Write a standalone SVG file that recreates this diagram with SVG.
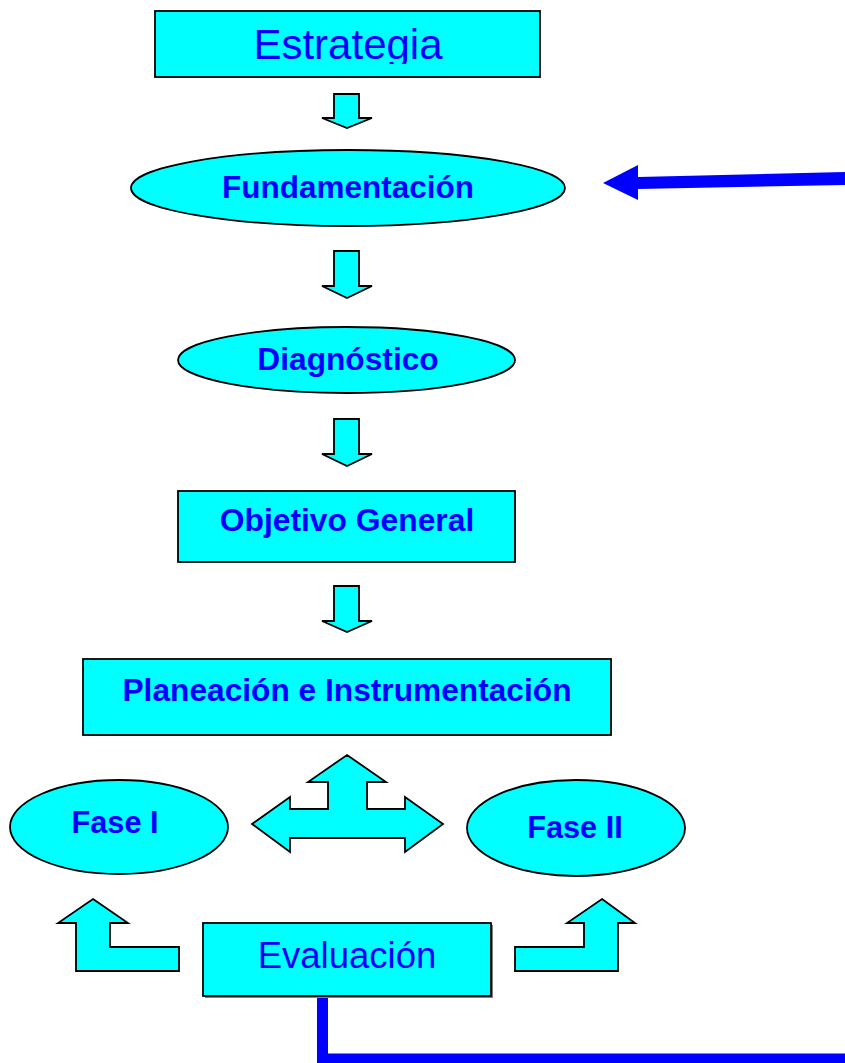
<svg xmlns="http://www.w3.org/2000/svg" width="845" height="1063" viewBox="0 0 845 1063">
<style>
.n{fill:#00FFFF;stroke:#000;stroke-width:1.8}
.a{fill:#00FFFF;stroke:#000;stroke-width:1.8;stroke-linejoin:miter}
.t{font-family:"Liberation Sans",Arial,sans-serif;fill:#0000FF;text-anchor:middle}
.b{font-weight:bold}
.c{fill:none;stroke:#0000FF;stroke-width:11}
</style>
<defs>
<clipPath id="clipE"><rect x="155" y="11" width="385" height="53"/></clipPath>
</defs>
<rect width="845" height="1063" fill="#fff"/>
<g id="estrategia">
<rect class="n" x="155" y="11" width="385" height="66"/>
<text class="t" x="348" y="59" font-size="42" clip-path="url(#clipE)">Estrategia</text>
</g>
<g id="fundamentacion">
<ellipse class="n" cx="348" cy="188" rx="217" ry="38"/>
<text class="t b" x="348" y="198" font-size="31.5">Fundamentación</text>
</g>
<g id="diagnostico">
<ellipse class="n" cx="346.5" cy="360" rx="168.5" ry="33"/>
<text class="t b" x="348" y="370" font-size="31.7">Diagnóstico</text>
</g>
<g id="objetivo">
<rect class="n" x="178" y="491" width="337" height="71"/>
<text class="t b" x="347" y="531" font-size="31.8">Objetivo General</text>
</g>
<g id="planeacion">
<rect class="n" x="83" y="659" width="528" height="76"/>
<text class="t b" x="347" y="701" font-size="31.7">Planeación e Instrumentación</text>
</g>
<g id="fase1">
<ellipse class="n" cx="119" cy="827" rx="109" ry="47"/>
<text class="t b" x="115" y="833" font-size="30.7">Fase I</text>
</g>
<g id="fase2">
<ellipse class="n" cx="576" cy="828" rx="109" ry="48"/>
<text class="t b" x="575" y="838" font-size="30.7">Fase II</text>
</g>
<g id="evaluacion">
<rect x="205" y="925" width="288" height="73" fill="#808080"/>
<rect class="n" x="203" y="923" width="288" height="73"/>
<text class="t" x="347" y="968" font-size="36.5">Evaluación</text>
</g>
<g id="connectors">
<polygon class="a" points="334,94 359,94 359,118 372,118 347,128 322,118 334,118"/>
<polygon class="a" points="334,251 359,251 359,286 372,286 347,298 322,286 334,286"/>
<polygon class="a" points="334,419 359,419 359,454 372,454 347,466 322,454 334,454"/>
<polygon class="a" points="334,586 359,586 359,621 372,621 347,632 322,621 334,621"/>
<polygon class="a" points="347,755 386,782 367,782 367,809 405,809 405,797 443,824 405,852 405,838 290,838 290,852 252,824 290,797 290,809 328,809 328,782 308,782"/>
<polygon class="a" points="93,899 128,923 110,923 110,947 179,947 179,971 76,971 76,923 58,923"/>
<polygon class="a" points="602,899 635,923 618,923 618,971 515,971 515,947 584,947 584,923 567,923"/>
<polygon fill="#0000FF" points="603,183 638,165 638,177 845,172 845,185 638,189 638,200"/>
<polyline class="c" points="322.5,998 322.5,1059 845,1059"/>
</g>
</svg>
